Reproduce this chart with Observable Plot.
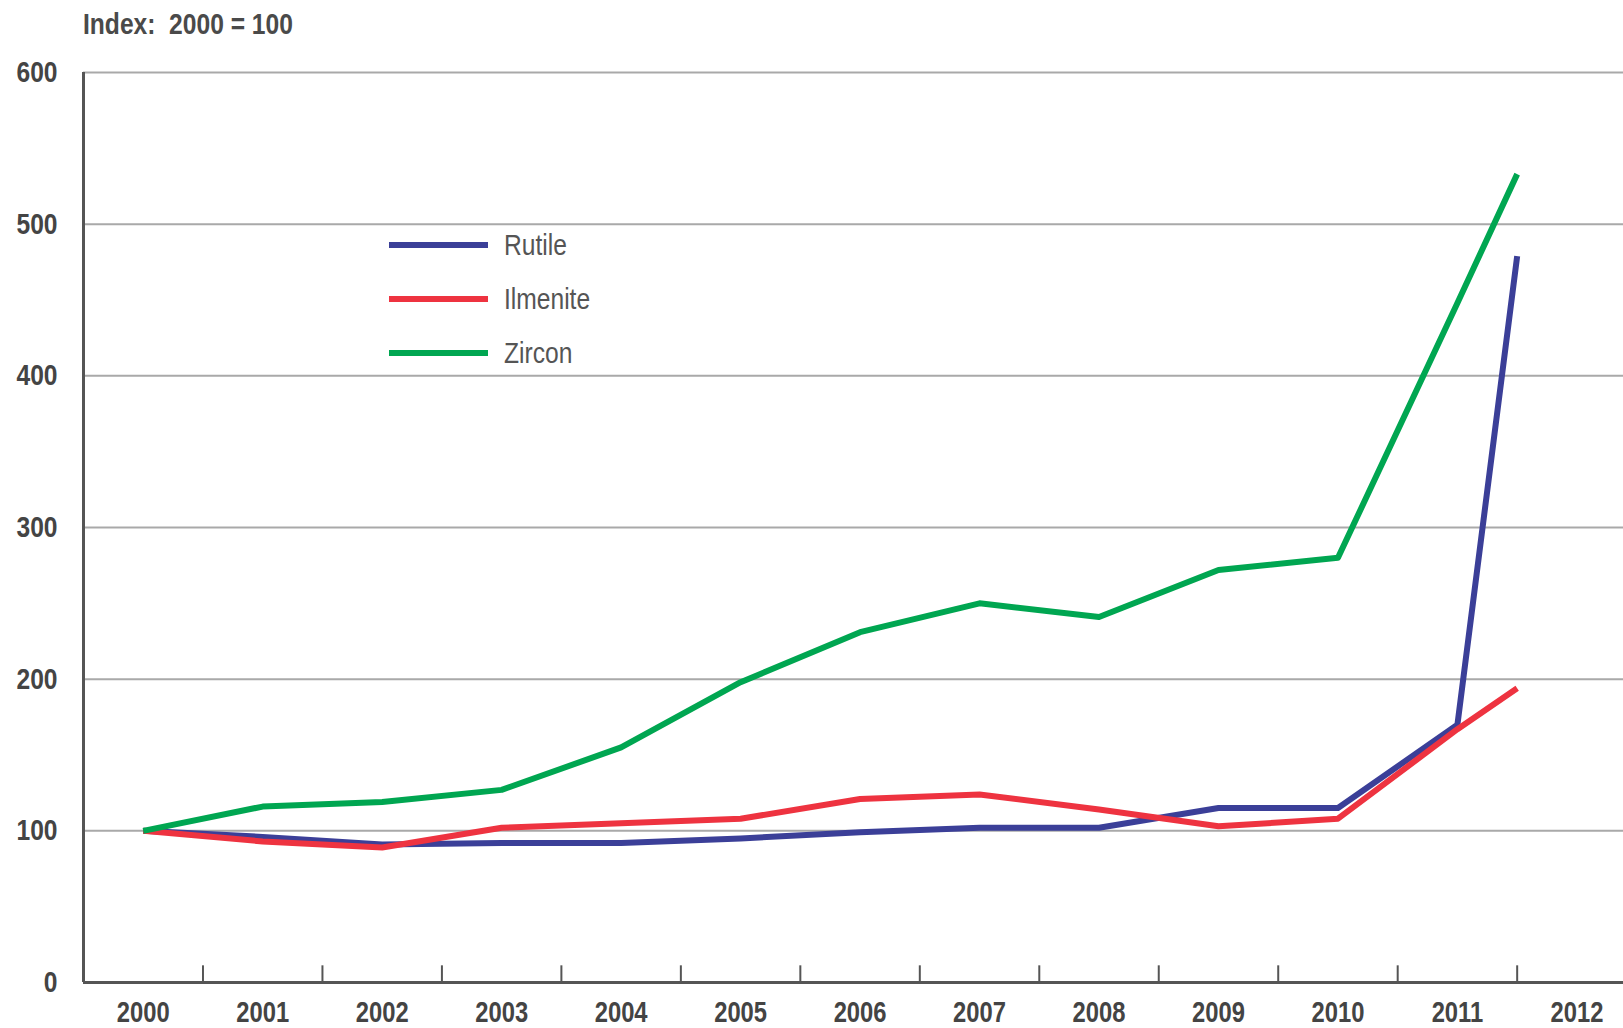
<!DOCTYPE html>
<html>
<head>
<meta charset="utf-8">
<script src="https://cdn.jsdelivr.net/npm/d3@7"></script>
<script src="https://cdn.jsdelivr.net/npm/@observablehq/plot@0.6"></script>
<style>
  body { margin: 0; background: #fff; }
  #wrap { position: relative; width: 1623px; height: 1028px; font-family: "Liberation Sans", Arial, sans-serif; }
  #title { height: 48px; line-height: 48px; padding-left: 83px; }
  #title span { display: inline-block; font-size: 30px; font-weight: bold; color: #4a4a4a; white-space: pre; transform: scaleX(0.82); transform-origin: left center; }
  #legend { position: absolute; left: 389px; top: 218px; }
  .item { display: flex; align-items: center; height: 54px; }
  .sw { width: 99px; height: 6px; margin-right: 16px; flex: none; }
  .lab { display: inline-block; font-size: 30px; color: #555; transform: scaleX(0.82); transform-origin: left center; }
</style>
</head>
<body>
<div id="wrap">
  <div id="title"><span></span></div>
  <div id="chart"></div>
  <div id="legend"></div>
</div>
<script>
const titleText = "Index:  2000 = 100";
const seriesNames = ["Rutile", "Ilmenite", "Zircon"];
const seriesColors = ["#3b3f98", "#ee3340", "#00a651"];
const years = [2000, 2001, 2002, 2003, 2004, 2005, 2006, 2007, 2008, 2009, 2010, 2011, 2011.5];
const rutile   = [100, 96, 91, 92, 92, 95, 99, 102, 102, 115, 115, 170, 479];
const ilmenite = [100, 93, 89, 102, 105, 108, 121, 124, 114, 103, 108, 167, 194];
const zircon   = [100, 116, 119, 127, 155, 198, 231, 250, 241, 272, 280, 448, 533];
const xLabels = [2000, 2001, 2002, 2003, 2004, 2005, 2006, 2007, 2008, 2009, 2010, 2011, 2012];
const xTickMarks = [2000.5, 2001.5, 2002.5, 2003.5, 2004.5, 2005.5, 2006.5, 2007.5, 2008.5, 2009.5, 2010.5, 2011.5];
const yTicks = [0, 100, 200, 300, 400, 500, 600];
const gridValues = [100, 200, 300, 400, 500, 600];

document.querySelector("#title span").textContent = titleText;

const valuesBySeries = [rutile, ilmenite, zircon];
const data = [];
seriesNames.forEach((s, i) => {
  years.forEach((yr, j) => data.push({series: s, year: yr, value: valuesBySeries[i][j]}));
});

const font = '"Liberation Sans", Arial, sans-serif';
const chart = Plot.plot({
  width: 1623,
  height: 980,
  marginTop: 24,
  marginBottom: 46,
  marginLeft: 83,
  marginRight: 0,
  style: { fontFamily: font, background: "#fff" },
  x: { domain: [1999.5, 2012.39] },
  y: { domain: [0, 600] },
  color: { domain: seriesNames, range: seriesColors },
  marks: [
    Plot.ruleY(gridValues, { stroke: "#a9a9a9", strokeWidth: 2 }),
    Plot.ruleX(xTickMarks, { y1: 0, y2: 11, stroke: "#555", strokeWidth: 2 }),
    Plot.line(data, { x: "year", y: "value", z: "series", stroke: "series", strokeWidth: 6, strokeLinejoin: "round", strokeLinecap: "butt" }),
    Plot.ruleY([0], { stroke: "#555", strokeWidth: 3 }),
    Plot.ruleX([1999.5], { stroke: "#555", strokeWidth: 3 }),
    Plot.axisY(yTicks, { tickSize: 0, tickPadding: 26, fontSize: 30, fontWeight: "bold", fill: "#444", label: null }),
    Plot.axisX(xLabels, { tickSize: 0, tickPadding: 19, fontSize: 29, fontWeight: "bold", fill: "#444", label: null, tickFormat: d => String(d) })
  ]
});
document.getElementById("chart").appendChild(chart);

// condense axis labels (narrow bold look of the original)
const k = 0.82;
chart.querySelectorAll('g[aria-label$="tick label"] text').forEach(t => {
  const x = +(t.getAttribute("x") || 0);
  t.setAttribute("x", x / k);
  const tr = t.getAttribute("transform") || "";
  t.setAttribute("transform", (tr + ` scale(${k},1)`).trim());
});

const legend = document.getElementById("legend");
seriesNames.forEach((s, i) => {
  const it = document.createElement("div");
  it.className = "item";
  const sw = document.createElement("div");
  sw.className = "sw";
  sw.style.background = seriesColors[i];
  const lab = document.createElement("span");
  lab.className = "lab";
  lab.textContent = s;
  it.appendChild(sw);
  it.appendChild(lab);
  legend.appendChild(it);
});
</script>
</body>
</html>
